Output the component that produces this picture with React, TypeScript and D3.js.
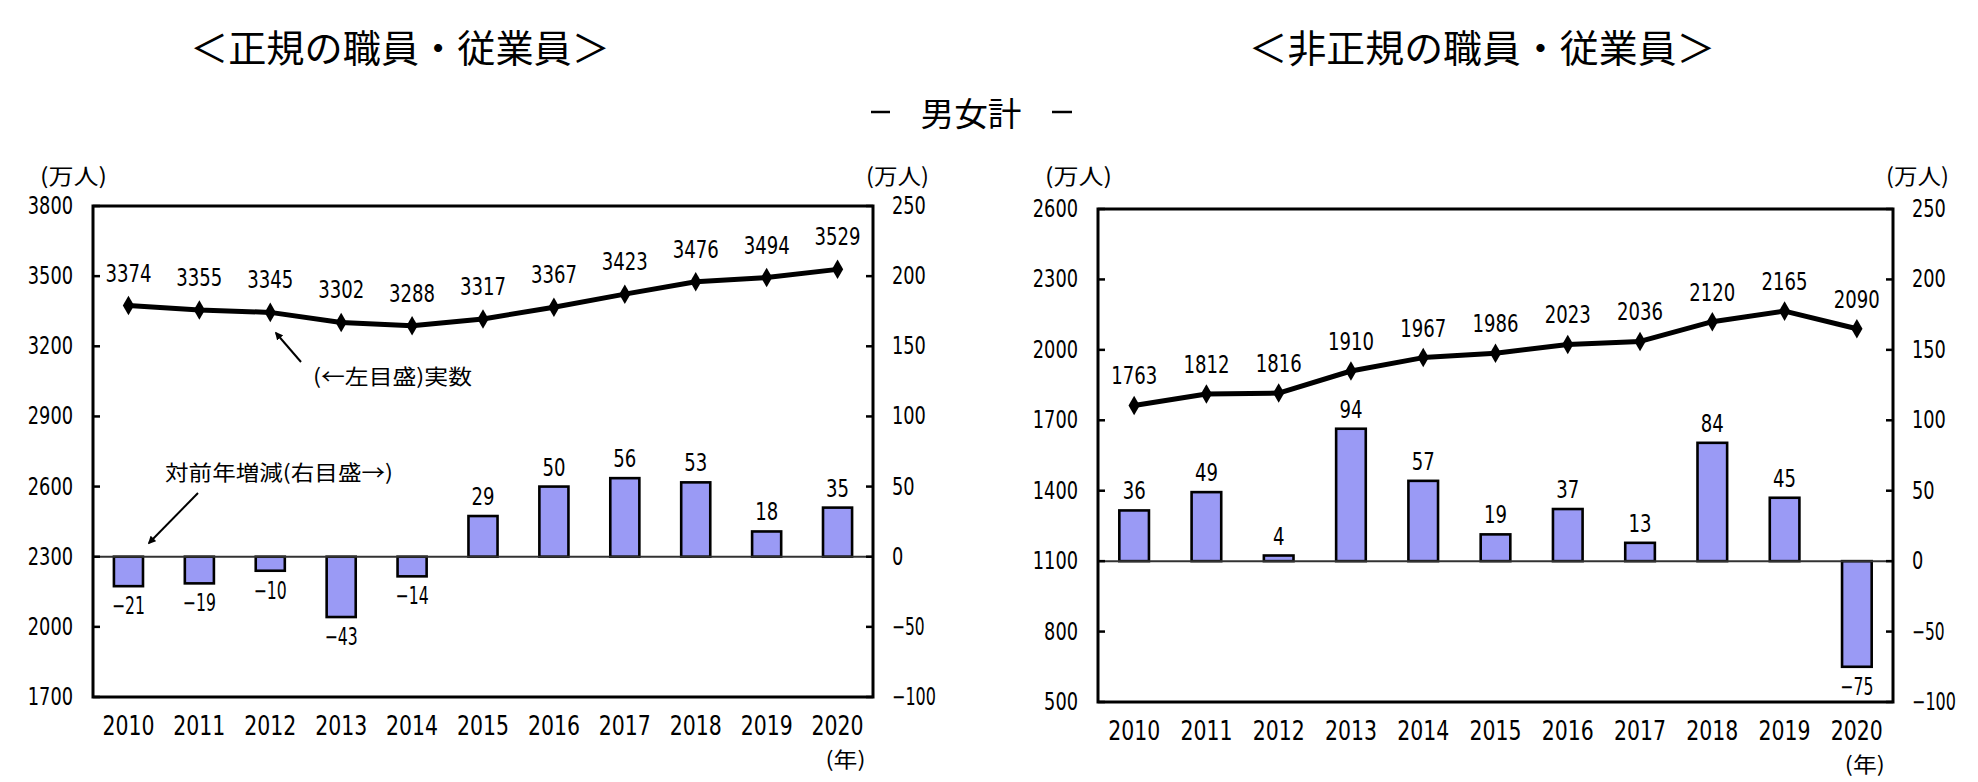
import React from 'react';
import * as d3 from 'd3';

const years = ['2010', '2011', '2012', '2013', '2014', '2015', '2016', '2017', '2018', '2019', '2020'];
const regularTotal = [3374, 3355, 3345, 3302, 3288, 3317, 3367, 3423, 3476, 3494, 3529];
const regularChange = [-21, -19, -10, -43, -14, 29, 50, 56, 53, 18, 35];
const nonRegularTotal = [1763, 1812, 1816, 1910, 1967, 1986, 2023, 2036, 2120, 2165, 2090];
const nonRegularChange = [36, 49, 4, 94, 57, 19, 37, 13, 84, 45, -75];
const regularLeftTicks = [1700, 2000, 2300, 2600, 2900, 3200, 3500, 3800];
const nonRegularLeftTicks = [500, 800, 1100, 1400, 1700, 2000, 2300, 2600];
const rightTicks = [-100, -50, 0, 50, 100, 150, 200, 250];

const JP = '"Noto Sans CJK JP", "Noto Sans CJK SC", sans-serif';
const NUM = '"Liberation Sans Narrow", "Arial Narrow", "DejaVu Sans Condensed", "Liberation Sans", sans-serif';
const BAR_FILL = '#9a9af5';

type NumProps = {
  x: number;
  y: number;
  v: number | string;
  anchor?: string;
  size?: number;
  digitW?: number;
};

function Num({ x, y, v, anchor = 'middle', size = 24, digitW = 11.5 }: NumProps) {
  const n = typeof v === 'number' ? v : Number(v);
  const s = n < 0 ? '−' + Math.abs(n) : String(v);
  const digits = String(Math.abs(n)).length;
  const len = digits * digitW + (n < 0 ? 10 : 0);
  return (
    <text
      x={x}
      y={y}
      textAnchor={anchor}
      dominantBaseline="central"
      fontFamily={NUM}
      fontSize={size}
      textLength={len}
      lengthAdjust="spacingAndGlyphs"
      fill="#000"
    >
      {s}
    </text>
  );
}

type PanelProps = {
  title: string;
  titleX: number;
  titleLen: number;
  x0: number;
  x1: number;
  yTop: number;
  yBottom: number;
  totals: number[];
  changes: number[];
  leftTicks: number[];
  lineLabelOffset: number;
  annotate: boolean;
};

function Panel(p: PanelProps) {
  const x = d3.scaleBand<string>().domain(years).range([p.x0, p.x1]).paddingInner(0.59).paddingOuter(0.295);
  const yL = d3.scaleLinear().domain([p.leftTicks[0], p.leftTicks[p.leftTicks.length - 1]]).range([p.yBottom, p.yTop]);
  const yR = d3.scaleLinear().domain([rightTicks[0], rightTicks[rightTicks.length - 1]]).range([p.yBottom, p.yTop]);
  const cx = (yr: string) => (x(yr) as number) + x.bandwidth() / 2;
  const line = d3.line<number>().x((_, i) => cx(years[i])).y((v) => yL(v));
  const diamond = d3.symbol().type(d3.symbolDiamond).size(110)();
  const zero = yR(0);

  return (
    <g>
      <text
        x={p.titleX}
        y={45}
        textAnchor="middle"
        dominantBaseline="central"
        fontFamily={JP}
        fontSize={38}
        textLength={p.titleLen}
        lengthAdjust="spacingAndGlyphs"
        fill="#000"
      >
        {p.title}
      </text>
      {/* units */}
      <text x={p.x0 - 53} y={174} dominantBaseline="central" fontFamily={JP} fontSize={22} textLength={67} lengthAdjust="spacingAndGlyphs" fill="#000">(万人)</text>
      <text x={p.x1 - 7} y={174} dominantBaseline="central" fontFamily={JP} fontSize={22} textLength={63} lengthAdjust="spacingAndGlyphs" fill="#000">(万人)</text>
      {/* bars */}
      {p.changes.map((v, i) => {
        const yv = yR(v);
        return (
          <rect
            key={'b' + i}
            x={x(years[i])}
            y={Math.min(yv, zero)}
            width={x.bandwidth()}
            height={Math.abs(yv - zero)}
            fill={BAR_FILL}
            stroke="#000"
            strokeWidth={2.6}
          />
        );
      })}
      {/* zero line */}
      <line x1={p.x0} x2={p.x1} y1={zero} y2={zero} stroke="#333" strokeWidth={2} />
      {/* frame */}
      <rect x={p.x0} y={p.yTop} width={p.x1 - p.x0} height={p.yBottom - p.yTop} fill="none" stroke="#000" strokeWidth={3} />
      {/* ticks */}
      {p.leftTicks.map((t) => (
        <g key={'lt' + t}>
          <line x1={p.x0} x2={p.x0 + 7} y1={yL(t)} y2={yL(t)} stroke="#000" strokeWidth={2.5} />
          <Num x={p.x0 - 20} y={yL(t)} v={t} anchor="end" digitW={11.3} />
        </g>
      ))}
      {rightTicks.map((t) => (
        <g key={'rt' + t}>
          <line x1={p.x1 - 7} x2={p.x1} y1={yR(t)} y2={yR(t)} stroke="#000" strokeWidth={2.5} />
          <Num x={p.x1 + 19} y={yR(t)} v={t} anchor="start" digitW={11.3} />
        </g>
      ))}
      {/* x labels */}
      {years.map((yr) => (
        <Num key={'x' + yr} x={cx(yr)} y={p.yBottom + 29} v={yr} size={26} digitW={13} />
      ))}
      <text x={cx(years[years.length - 1]) + 8} y={p.yBottom + 61} textAnchor="middle" dominantBaseline="central" fontFamily={JP} fontSize={21} textLength={40} lengthAdjust="spacingAndGlyphs" fill="#000">(年)</text>
      {/* line */}
      <path d={line(p.totals) as string} fill="none" stroke="#000" strokeWidth={5} strokeLinejoin="round" />
      {p.totals.map((v, i) => (
        <path key={'m' + i} d={diamond as string} transform={`translate(${cx(years[i])},${yL(v)})`} fill="#000" />
      ))}
      {p.totals.map((v, i) => (
        <Num key={'lv' + i} x={cx(years[i])} y={yL(v) - p.lineLabelOffset} v={v} />
      ))}
      {p.changes.map((v, i) => (
        <Num key={'bv' + i} x={cx(years[i])} y={v >= 0 ? yR(v) - 19 : yR(v) + 20} v={v} />
      ))}
      {p.annotate && (
        <g>
          <line x1={301} y1={362} x2={276} y2={333} stroke="#000" strokeWidth={2} markerEnd="url(#arrowHead)" />
          <text x={313} y={375} dominantBaseline="central" fontFamily={JP} fontSize={21} textLength={159} lengthAdjust="spacingAndGlyphs" fill="#000">(←左目盛)実数</text>
          <line x1={198} y1={493} x2={149} y2={543} stroke="#000" strokeWidth={2} markerEnd="url(#arrowHead)" />
          <text x={165} y={471} dominantBaseline="central" fontFamily={JP} fontSize={21} textLength={228} lengthAdjust="spacingAndGlyphs" fill="#000">対前年増減(右目盛→)</text>
        </g>
      )}
    </g>
  );
}

export default function App() {
  return (
    <svg width={1978} height={782} style={{ position: 'absolute', left: 0, top: 0, display: 'block', background: '#fff' }}>
      <defs>
        <marker id="arrowHead" viewBox="0 0 10 10" refX="8" refY="5" markerWidth="8" markerHeight="8" markerUnits="userSpaceOnUse" orient="auto">
          <path d="M0,0 L10,5 L0,10 z" fill="#000" />
        </marker>
      </defs>
      <rect x={0} y={0} width={1978} height={782} fill="#fff" />
      <Panel
        title="＜正規の職員・従業員＞"
        titleX={400}
        titleLen={420}
        x0={93}
        x1={873}
        yTop={206}
        yBottom={697}
        totals={regularTotal}
        changes={regularChange}
        leftTicks={regularLeftTicks}
        lineLabelOffset={32}
        annotate={true}
      />
      <Panel
        title="＜非正規の職員・従業員＞"
        titleX={1482}
        titleLen={467}
        x0={1098}
        x1={1893}
        yTop={209}
        yBottom={702}
        totals={nonRegularTotal}
        changes={nonRegularChange}
        leftTicks={nonRegularLeftTicks}
        lineLabelOffset={29}
        annotate={false}
      />
      <line x1={871} x2={890} y1={112} y2={112} stroke="#000" strokeWidth={2.5} />
      <text x={971} y={112} textAnchor="middle" dominantBaseline="central" fontFamily={JP} fontSize={33} textLength={101} lengthAdjust="spacingAndGlyphs" fill="#000">男女計</text>
      <line x1={1052} x2={1072} y1={112} y2={112} stroke="#000" strokeWidth={2.5} />
    </svg>
  );
}
